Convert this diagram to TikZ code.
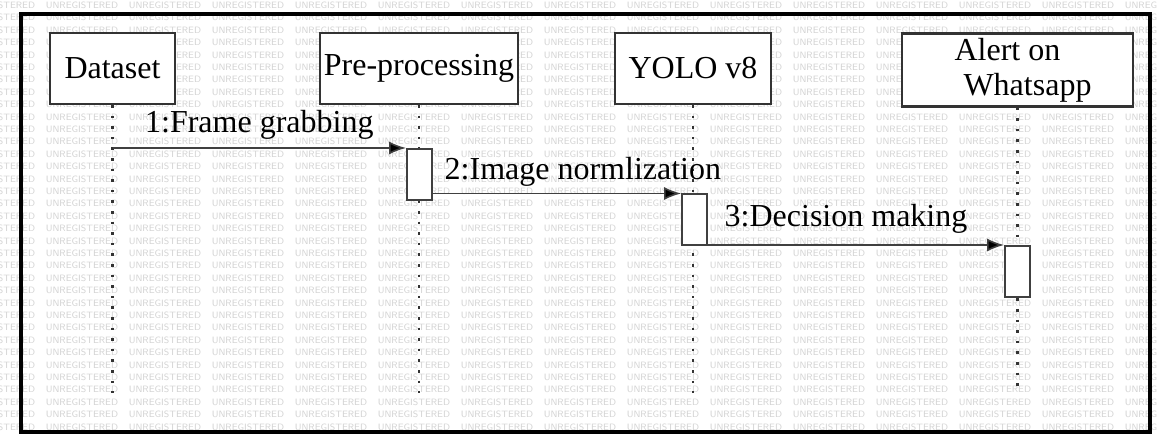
\documentclass[tikz,border=0pt]{standalone}
\usepackage{fontspec}
\setmainfont{Liberation Serif}
\usetikzlibrary{calc,
	arrows.meta,
	positioning}
\tikzstyle{actor}=[draw=black!80, line width=1.1pt, fill=white, inner sep=0,
		minimum height=35.5pt, font=\fontsize{16}{17.5}\selectfont]
\tikzstyle{act}=[draw=black!75, line width=0.9pt, fill=white, inner sep=0,
		minimum width=12.5pt, minimum height=25.5pt, anchor=north]
\tikzstyle{life}=[black!80, line width=1.3pt, dash pattern=on 1.3pt off 4pt]
\tikzstyle{msg}=[black!75, line width=0.8pt, -{Latex[length=8.5pt, width=6.5pt, fill=black]}]
\tikzstyle{lbl}=[inner sep=0, text=black, font=\fontsize{16}{17.5}\selectfont]
\tikzstyle{wm}=[inner sep=0, text=black!17, font=\sffamily\fontsize{4.6}{5}\selectfont]

\begin{document}
\begin{tikzpicture}[x=0.5pt, y=-0.5pt]
                \useasboundingbox (0,0) rectangle (1157,437);
                \clip (0,0) rectangle (1157,437);
                \fill[white] (0,0) rectangle (1157,437);
                % watermark
                \foreach \r in {0,...,34}
                    \foreach \c in {0,...,14}
                        \node[wm] (wm-\r-\c) at ({-1+83*\c}, {5.4+12.4*\r}) {UNREGISTERED};
                \draw[line width=2pt] (21,14) rectangle (1150,432);
                % lifeline heads
                \node[actor, minimum width=62.5pt] (dataset) at (112.5,68.5) {Dataset};
                \node[actor, minimum width=99pt] (prep) at (419,68.5) {Pre-processing};
                \node[actor, minimum width=78pt] (yolo) at (693,68.5) {YOLO v8};
                \node[actor, minimum width=115.5pt, minimum height=36.5pt, align=center] (alert) at (1017.5,70) {Alert on\hspace*{10pt}\\\hspace*{10pt}Whatsapp};
                \coordinate (bottom) at (0,393);
                \draw[life] (dataset) -- (dataset |- bottom);
                \draw[life] (prep) -- (prep |- bottom);
                \draw[life] (yolo) -- (yolo |- bottom);
                \draw[life] (alert) -- (alert |- bottom);
                % activations
                \node[act] (act1) at (419.5,148) {};
                \node[act] (act2) at (694.5,193.5) {};
                \node[act] (act3) at (1017.5,245) {};
                % messages
                \draw[msg] (dataset |- act1.north) -- node[lbl, anchor=base, yshift=7.5pt] {1:Frame grabbing} (act1.north west);
                \draw[msg] (act1.east |- act2.north) -- node[lbl, pos=0, anchor=base west, xshift=5.5pt, yshift=7pt] {2:Image normlization} (act2.north west);
                \draw[msg] (act2.east |- act3.north) -- node[lbl, pos=0, anchor=base west, xshift=8pt, yshift=9pt] {3:Decision making} (act3.north west);
\end{tikzpicture}
\end{document}
